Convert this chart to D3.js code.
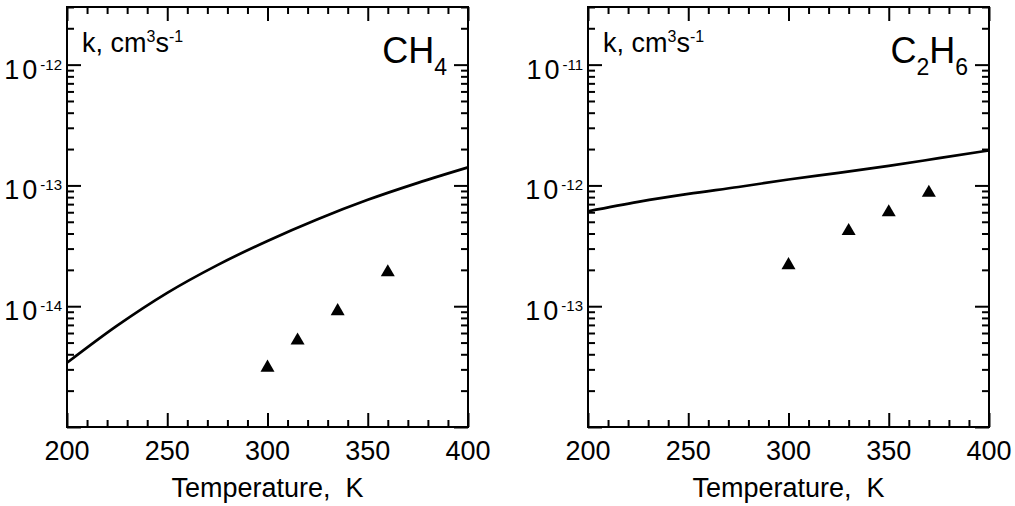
<!DOCTYPE html>
<html>
<head>
<meta charset="utf-8">
<script src="https://cdn.jsdelivr.net/npm/d3@7"></script>
<style>
    body { margin: 0; background: #fff; }
    text { font-family: "Liberation Sans", Arial, sans-serif; fill: #000; white-space: pre; }
    .tick line { stroke: #000; stroke-width: 2; }
    .domain { display: none; }
</style>
</head>
<body>
<div id="chart"></div>
<script>
// temperature grid of the calculated curves
const temps = [200, 225, 250, 275, 300, 325, 350, 375, 400];
const ch4Calc = [3.4e-15, 6.9e-15, 1.29e-14, 2.19e-14, 3.47e-14, 5.25e-14, 7.6e-14, 1.05e-13, 1.41e-13];
const c2h6Calc = [6.1e-13, 7.3e-13, 8.5e-13, 9.7e-13, 1.12e-12, 1.27e-12, 1.45e-12, 1.68e-12, 1.95e-12];

// measured points (triangles)
const ch4ExpT = [300, 315, 335, 360];
const ch4Exp = [3.1e-15, 5.2e-15, 9.1e-15, 1.91e-14];
const c2h6ExpT = [300, 330, 350, 370];
const c2h6Exp = [2.19e-13, 4.19e-13, 6.0e-13, 8.7e-13];

const xTicks = [200, 250, 300, 350, 400];
const ch4Decades = [-15, -14, -13, -12];
const c2h6Decades = [-14, -13, -12, -11];

document.addEventListener("DOMContentLoaded", setup)

function setup(){
    const svg = d3.select("#chart").append("svg")
        .attr("width", 1015)
        .attr("height", 506);

    drawPanel(svg, {left: 67, right: 468, top: 7, bottom: 427},
        [1e-15, 3e-12], ch4Decades, temps, ch4Calc, ch4ExpT, ch4Exp, ["CH", "4"]);
    drawPanel(svg, {left: 588, right: 989, top: 7, bottom: 427},
        [1e-14, 3e-11], c2h6Decades, temps, c2h6Calc, c2h6ExpT, c2h6Exp, ["C", "2", "H", "6"]);
}

function drawPanel(svg, box, yDomain, decades, T, calc, expT, exp, formula){
    const x = d3.scaleLinear().domain([200, 400]).range([box.left, box.right]);
    const y = d3.scaleLog().domain(yDomain).range([box.bottom, box.top]);
    const g = svg.append("g");

    const minorX = d3.range(200, 401, 10).filter(d => d % 50 != 0);
    const majorY = decades.map(d => Math.pow(10, d)).filter(d => d >= yDomain[0] && d <= yDomain[1]);
    const minorY = [];
    decades.forEach(d => {
        for (let m = 2; m <= 9; m++) {
            const v = m * Math.pow(10, d);
            if (v > yDomain[0] && v <= yDomain[1] * 1.0001) minorY.push(v);
        }
    });

    // inward ticks on all four sides
    const axes = [
        [d3.axisBottom(x), box.bottom, "x", xTicks, minorX],
        [d3.axisTop(x), box.top, "x", xTicks, minorX],
        [d3.axisLeft(y), box.left, "y", majorY, minorY],
        [d3.axisRight(y), box.right, "y", majorY, minorY]
    ];
    axes.forEach(([ax, pos, dir, major, minor]) => {
        const tr = dir == "x" ? "translate(0," + pos + ")" : "translate(" + pos + ",0)";
        g.append("g").attr("transform", tr)
            .call(ax.tickValues(major).tickSize(-14).tickFormat(""));
        g.append("g").attr("transform", tr)
            .call(ax.tickValues(minor).tickSize(-7).tickFormat(""));
    });

    g.append("rect")
        .attr("x", box.left)
        .attr("y", box.top)
        .attr("width", box.right - box.left)
        .attr("height", box.bottom - box.top)
        .attr("fill", "none")
        .attr("stroke", "#000")
        .attr("stroke-width", 2);

    // x tick labels
    g.selectAll(".xlab")
        .data(xTicks)
        .enter()
        .append("text")
        .attr("x", d => x(d))
        .attr("y", box.bottom + 33)
        .attr("text-anchor", "middle")
        .style("font-size", "27px")
        .text(d => d);

    // y tick labels 10^n, the bottom decade has none
    majorY.filter(v => v > yDomain[0]).forEach(v => {
        const t = g.append("text")
            .attr("x", box.left - 5)
            .attr("y", y(v) + 14)
            .attr("text-anchor", "end")
            .style("font-size", "27px");
        t.append("tspan").text("10").attr("letter-spacing", "3px");
        t.append("tspan").attr("dy", -9).style("font-size", "15px").text(Math.round(Math.log10(v)));
    });

    g.append("text")
        .attr("x", (box.left + box.right) / 2)
        .attr("y", box.bottom + 70)
        .attr("text-anchor", "middle")
        .style("font-size", "27px")
        .text("Temperature,  K");

    // unit label
    const k = g.append("text")
        .attr("x", box.left + 15)
        .attr("y", box.top + 45)
        .style("font-size", "27px");
    k.append("tspan").text("k, cm");
    k.append("tspan").attr("dy", -10).style("font-size", "16px").text("3");
    k.append("tspan").attr("dy", 10).text("s");
    k.append("tspan").attr("dy", -10).style("font-size", "16px").text("-1");

    // formula, big letters + subscripts
    const f = g.append("text")
        .attr("x", box.right - 21)
        .attr("y", box.top + 56)
        .attr("text-anchor", "end")
        .style("font-size", "36px");
    formula.forEach((s, i) => {
        const sub = i % 2 == 1;
        const ts = f.append("tspan").text(s);
        if (sub) ts.attr("dy", 12).style("font-size", "23px");
        else if (i > 0) ts.attr("dy", -12);
    });

    // calculated curve
    const line = d3.line()
        .x((d, i) => x(T[i]))
        .y(d => y(d))
        .curve(d3.curveMonotoneX);
    g.append("path")
        .datum(calc)
        .attr("d", line)
        .attr("fill", "none")
        .attr("stroke", "#000")
        .attr("stroke-width", 2.7);

    // experiment
    g.selectAll(".pt")
        .data(exp)
        .enter()
        .append("path")
        .attr("d", d3.symbol().type(d3.symbolTriangle).size(85))
        .attr("transform", (d, i) => "translate(" + x(expT[i]) + "," + y(d) + ")")
        .attr("fill", "#000");
}
</script>
</body>
</html>
